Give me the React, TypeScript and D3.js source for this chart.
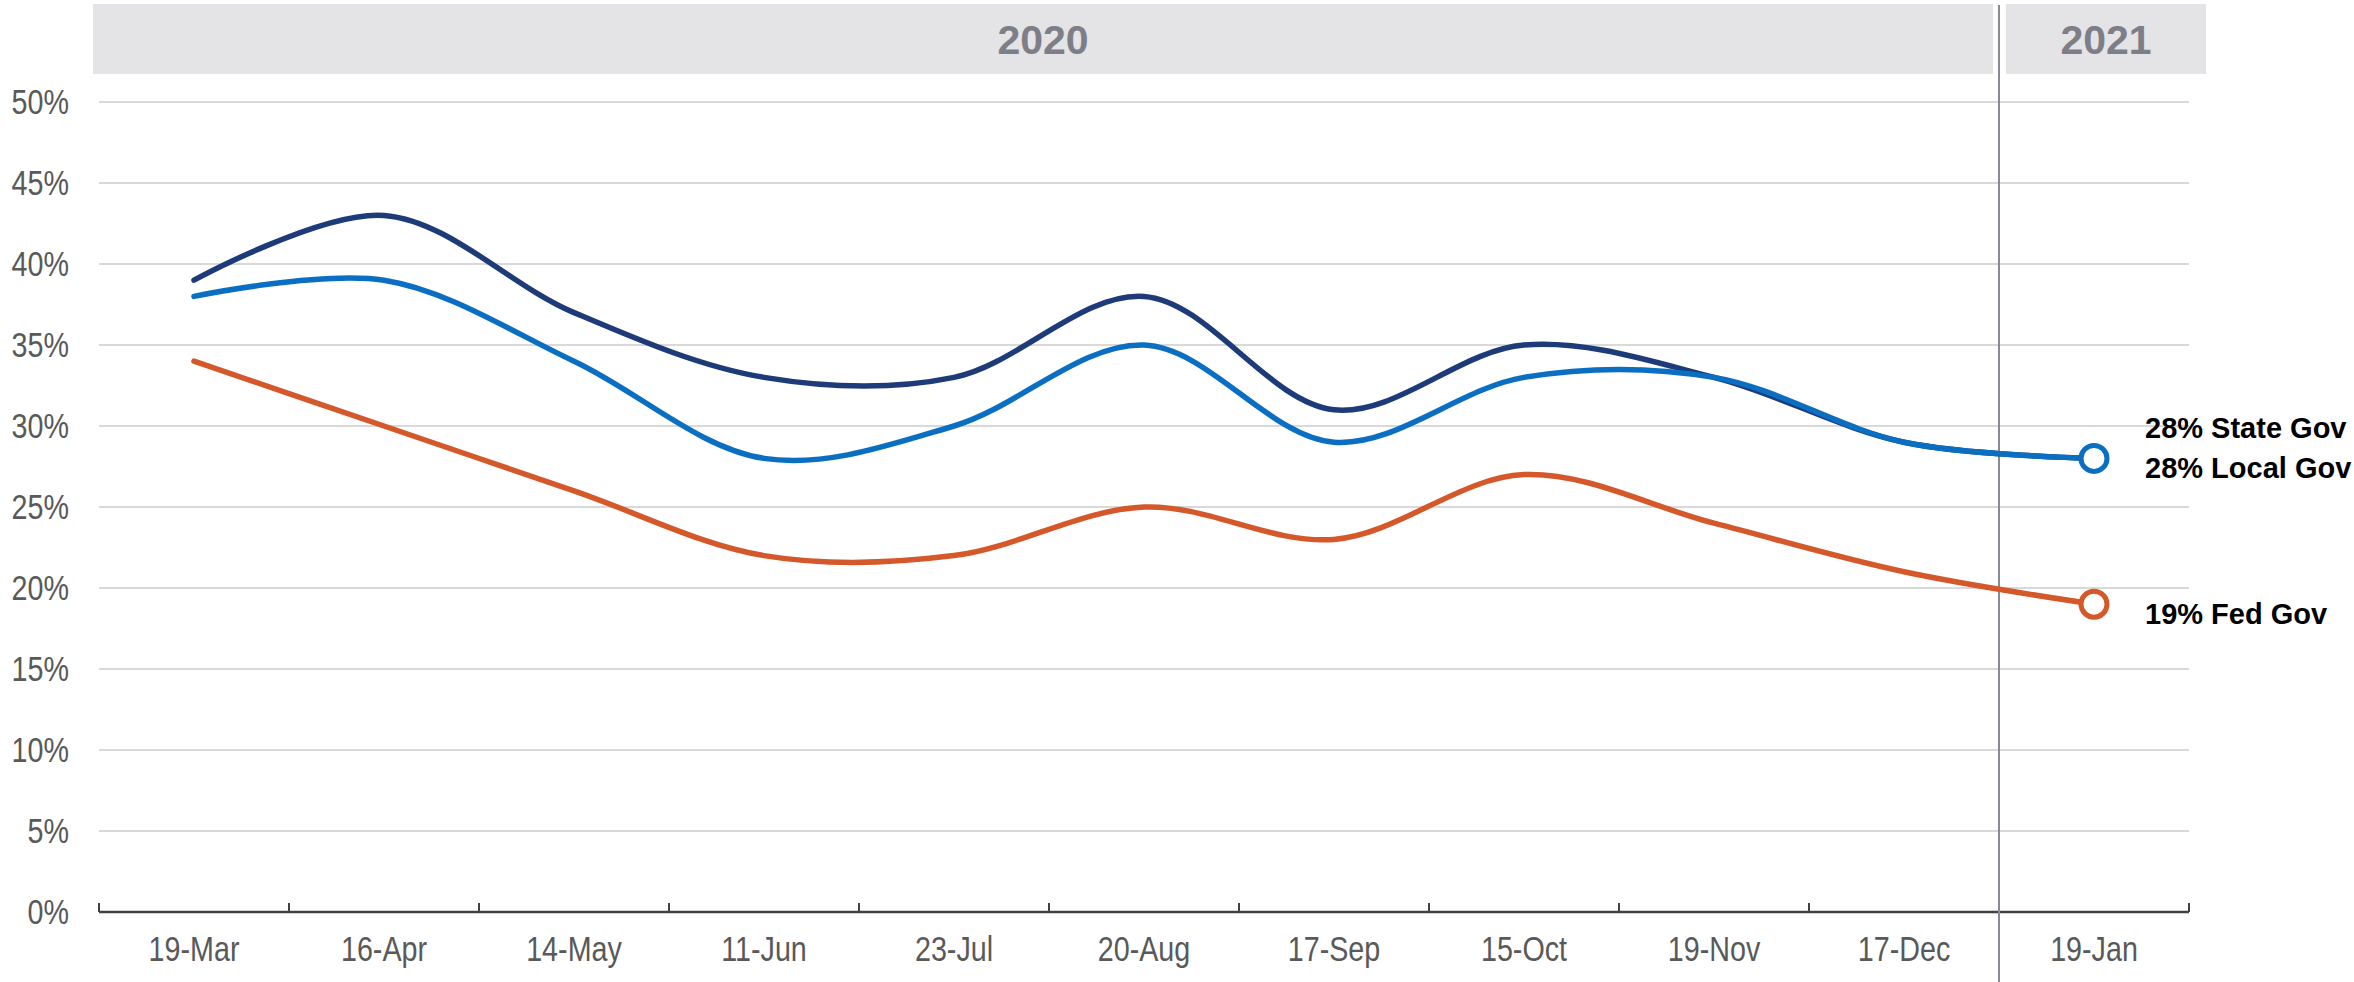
import React from "react";
import * as d3 from "d3";

const categories = ["19-Mar", "16-Apr", "14-May", "11-Jun", "23-Jul", "20-Aug", "17-Sep", "15-Oct", "19-Nov", "17-Dec", "19-Jan"];
const stateGov = [39, 43, 37, 33, 33, 38, 31, 35, 33, 29, 28];
const localGov = [38, 39, 34, 28, 30, 35, 29, 33, 33, 29, 28];
const fedGov = [34, 30, 26, 22, 22, 25, 23, 27, 24, 21, 19];
const yTicks = [0, 5, 10, 15, 20, 25, 30, 35, 40, 45, 50];
const years = [
  { label: "2020", from: 0, to: 10 },
  { label: "2021", from: 10, to: 11 },
];

const W = 2354;
const H = 982;
const left = 99;
const right = 2189;
const top = 102;
const bottom = 912;

const COLORS = { state: "#1d3b78", local: "#0a6fc2", fed: "#d5582a" };

export default function App() {
  const x = d3.scaleBand<string>().domain(categories).range([left, right]).paddingInner(0).paddingOuter(0);
  const y = d3.scaleLinear().domain([0, 50]).range([bottom, top]);
  const cx = (i: number) => (x(categories[i]) as number) + x.bandwidth() / 2;
  const line = d3
    .line<number>()
    .x((_, i) => cx(i))
    .y((d) => y(d))
    .curve(d3.curveCatmullRom.alpha(0.5));
  const bw = x.bandwidth();
  const boundaries = d3.range(categories.length + 1).map((i) => left + i * bw);
  const last = categories.length - 1;
  const sepX = left + 10 * bw;
  const font = "'Liberation Sans', Arial, sans-serif";
  const boldFont = "'Liberation Sans', Arial, sans-serif";
  const narrow = 0.82;

  return (
    <svg width={W} height={H} style={{ position: "absolute", left: 0, top: 0, background: "#fff" }}>
      {/* year header bands */}
      {years.map((yr, k) => {
        const x0 = k === 0 ? 93 : left + yr.from * bw + 7;
        const x1 = k === 0 ? left + yr.to * bw - 6 : 2206;
        return (
          <g key={yr.label}>
            <rect x={x0} y={4} width={x1 - x0} height={70} fill="#e4e4e6" />
            <text
              x={(x0 + x1) / 2}
              y={54}
              textAnchor="middle"
              fontFamily={boldFont}
              fontWeight="bold"
              fontSize={41}
              fill="#7e7e89"
            >
              {yr.label}
            </text>
          </g>
        );
      })}
      {/* gridlines */}
      {yTicks.filter((t) => t > 0).map((t) => (
        <line key={t} x1={left} x2={right} y1={y(t)} y2={y(t)} stroke="#d9d9d9" strokeWidth={2} />
      ))}
      {/* y labels */}
      {yTicks.map((t) => (
        <text
          key={t}
          transform={`translate(69,${y(t) + 12}) scale(${narrow},1)`}
          textAnchor="end"
          fontFamily={font}
          fontSize={35}
          fill="#595959"
        >
          {t + "%"}
        </text>
      ))}
      {/* x axis */}
      <line x1={left} x2={right} y1={bottom} y2={bottom} stroke="#404040" strokeWidth={2.5} />
      {boundaries.map((b, i) => (
        <line key={i} x1={b} x2={b} y1={bottom} y2={bottom - 9} stroke="#404040" strokeWidth={2} />
      ))}
      {categories.map((c, i) => (
        <text
          key={c}
          transform={`translate(${cx(i)},961) scale(${narrow},1)`}
          textAnchor="middle"
          fontFamily={font}
          fontSize={35}
          fill="#595959"
        >
          {c}
        </text>
      ))}
      {/* separator */}
      <line x1={sepX} x2={sepX} y1={5} y2={H} stroke="#8a8a95" strokeWidth={2} />
      {/* lines */}
      <path d={line(stateGov) as string} fill="none" stroke={COLORS.state} strokeWidth={5.5} strokeLinecap="round" />
      <path d={line(localGov) as string} fill="none" stroke={COLORS.local} strokeWidth={5.5} strokeLinecap="round" />
      <path d={line(fedGov) as string} fill="none" stroke={COLORS.fed} strokeWidth={5.5} strokeLinecap="round" />
      {/* end markers */}
      <circle cx={cx(last)} cy={y(localGov[last])} r={13} fill="#fff" stroke={COLORS.local} strokeWidth={5} />
      <circle cx={cx(last)} cy={y(fedGov[last])} r={13} fill="#fff" stroke={COLORS.fed} strokeWidth={5} />
      {/* end labels */}
      <text x={2145} y={438} fontFamily={boldFont} fontWeight="bold" fontSize={29} fill="#000">
        {stateGov[last] + "% State Gov"}
      </text>
      <text x={2145} y={478} fontFamily={boldFont} fontWeight="bold" fontSize={29} fill="#000">
        {localGov[last] + "% Local Gov"}
      </text>
      <text x={2145} y={624} fontFamily={boldFont} fontWeight="bold" fontSize={29} fill="#000">
        {fedGov[last] + "% Fed Gov"}
      </text>
    </svg>
  );
}
